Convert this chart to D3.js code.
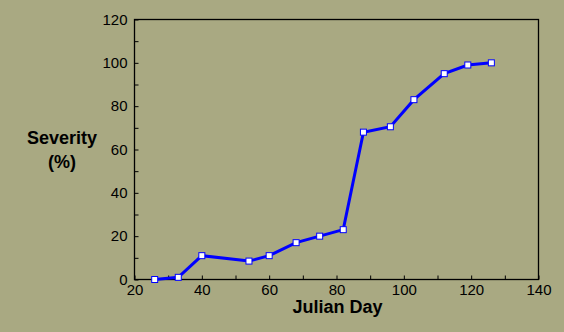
<!DOCTYPE html>
<html><head><meta charset="utf-8">
<script src="https://cdn.jsdelivr.net/npm/d3@7"></script>
<style>
html,body{margin:0;padding:0;background:#A9A982;}
svg{display:block;}
text{font-family:Arial,"Liberation Sans",sans-serif;}
</style></head>
<body>
<script>
const julianDay = [26, 33, 40, 54, 60, 68, 75, 82, 88, 96, 103, 112, 119, 126];
const severity  = [0, 1, 11, 8.5, 11, 17, 20, 23, 68, 70.5, 83, 95, 99, 100];
const xTicks = [20, 40, 60, 80, 100, 120, 140];
const yTicks = [0, 20, 40, 60, 80, 100, 120];
const xMinor = d3.range(20, 141, 10);
const yMinor = d3.range(0, 121, 10);

const W = 564, H = 332;
const m = {left:134.5, right:564-538.5, top:19.5, bottom:332-279.5};
const svg = d3.select("body").append("svg").attr("width", W).attr("height", H);
svg.append("rect").attr("width", W).attr("height", H).attr("fill", "#A9A982");

const x = d3.scaleLinear().domain([20, 140]).range([m.left, W - m.right]);
const y = d3.scaleLinear().domain([0, 120]).range([H - m.bottom, m.top]);

// frame
svg.append("rect").attr("x", x(20)).attr("y", y(120))
  .attr("width", x(140) - x(20)).attr("height", y(0) - y(120))
  .attr("fill", "none").attr("stroke", "#000").attr("stroke-width", 1.3);

// x axis
const xAxis = svg.append("g").attr("transform", `translate(0,${y(0)})`)
  .call(d3.axisBottom(x).tickValues(xMinor).tickSizeInner(-4).tickSizeOuter(0)
        .tickFormat(d => xTicks.includes(d) ? d : ""));
xAxis.select(".domain").remove();
xAxis.selectAll("text").attr("y", 5).attr("dy", "0.71em").attr("font-size", 15).attr("fill", "#000");

const yAxis = svg.append("g").attr("transform", `translate(${x(20)},0)`)
  .call(d3.axisLeft(y).tickValues(yMinor).tickSizeInner(-4).tickSizeOuter(0)
        .tickFormat(d => yTicks.includes(d) ? d : ""));
yAxis.select(".domain").remove();
yAxis.selectAll("text").attr("x", -7).attr("font-size", 15).attr("fill", "#000");

// line
const pts = julianDay.map((d, i) => [d, severity[i]]);
svg.append("path").datum(pts)
  .attr("fill", "none").attr("stroke", "#0000FF").attr("stroke-width", 3)
  .attr("d", d3.line().x(d => x(d[0])).y(d => y(d[1])));

svg.selectAll("rect.pt").data(pts).enter().append("rect").attr("class", "pt")
  .attr("x", d => x(d[0]) - 3).attr("y", d => y(d[1]) - 3)
  .attr("width", 6).attr("height", 6)
  .attr("fill", "#fff").attr("stroke", "#0000FF").attr("stroke-width", 1);

// titles
svg.append("text").attr("x", (x(20) + x(140)) / 2 + 1).attr("y", 313)
  .attr("text-anchor", "middle").attr("font-weight", "bold").attr("font-size", 18)
  .text("Julian Day");
svg.append("text").attr("x", 62).attr("y", 144)
  .attr("text-anchor", "middle").attr("font-weight", "bold").attr("font-size", 18)
  .text("Severity");
svg.append("text").attr("x", 62).attr("y", 168)
  .attr("text-anchor", "middle").attr("font-weight", "bold").attr("font-size", 18)
  .text("(%)");
</script>
</body></html>
